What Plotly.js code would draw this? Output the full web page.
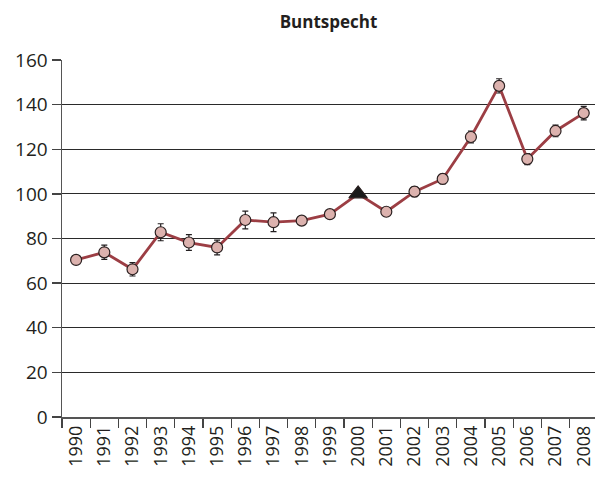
<!DOCTYPE html>
<html>
<head>
<meta charset="utf-8">
<script src="https://cdn.plot.ly/plotly-3.0.1.min.js"></script>
<style>html,body{margin:0;padding:0;background:#fff;}#chart{width:595px;height:483px;}</style>
</head>
<body>
<div id="chart"></div>
<script>
const years = ["1990","1991","1992","1993","1994","1995","1996","1997","1998","1999","2000","2001","2002","2003","2004","2005","2006","2007","2008"];
const indexValues = [70.4, 73.8, 66.2, 82.8, 78.2, 76.0, 88.3, 87.3, 88.0, 90.9, 100, 92.0, 101.0, 106.7, 125.5, 148.4, 115.6, 128.2, 136.2];
const errorValues = [0.8, 3.2, 3.0, 3.8, 3.5, 3.3, 4.0, 4.2, 1.3, 1.7, null, 1.8, 2.2, 2.2, 2.6, 3.2, 2.5, 2.6, 3.0];
const yTicks = [0, 20, 40, 60, 80, 100, 120, 140, 160];
const titleText = "Buntspecht";

const symbols = years.map(y => y === "2000" ? "triangle-up" : "circle");
const fills = years.map(y => y === "2000" ? "#1a1a1a" : "#dcb2ae");
const sizes = years.map(y => y === "2000" ? 16 : 11);

const errTrace = {
  type: "scatter",
  mode: "markers",
  x: years,
  y: indexValues,
  marker: {size: 1, opacity: 0},
  error_y: {type: "data", array: errorValues, visible: true, color: "#231f20", thickness: 1.2, width: 3},
  hoverinfo: "skip"
};

const trace = {
  type: "scatter",
  mode: "lines+markers",
  x: years,
  y: indexValues,
  line: {color: "#9c3e44", width: 2.8},
  marker: {symbol: symbols, color: fills, size: sizes, opacity: 1, line: {color: "#2b2020", width: 1.2}},
  hoverinfo: "x+y"
};

const layout = {
  width: 595, height: 483,
  margin: {l: 62, r: 0, t: 60, b: 66},
  paper_bgcolor: "#fff", plot_bgcolor: "#fff",
  font: {family: "Open Sans, sans-serif", color: "#231f20", size: 19},
  title: {text: "<b>" + titleText + "</b>", x: 0.5, xref: "paper", y: 0.955, yanchor: "middle", font: {size: 17, color: "#231f20"}},
  showlegend: false,
  xaxis: {
    type: "category",
    range: [-0.5, 18.4],
    tickson: "boundaries",
    ticks: "outside", ticklen: 9, tickwidth: 1.3, tickcolor: "#444",
    showline: true, linecolor: "#555", linewidth: 1.5,
    showgrid: false, zeroline: false,
    tickangle: -90,
    tickfont: {size: 18}
  },
  yaxis: {
    range: [0, 160],
    tickvals: yTicks,
    ticktext: yTicks.map(String),
    ticks: "outside", ticklen: 9, tickwidth: 1.3, tickcolor: "#444",
    showline: true, linecolor: "#555", linewidth: 1.5,
    showgrid: true, gridcolor: "#2a2a2a", gridwidth: 1,
    zeroline: false,
    tickfont: {size: 19}
  }
};

Plotly.newPlot("chart", [errTrace, trace], layout, {displayModeBar: false, staticPlot: true});
</script>
</body>
</html>
